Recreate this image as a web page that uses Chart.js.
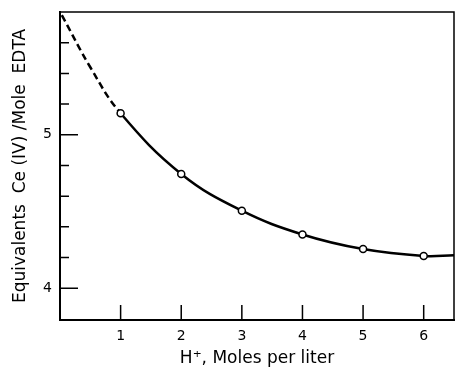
<!DOCTYPE html>
<html>
<head>
<meta charset="utf-8">
<script src="https://cdn.jsdelivr.net/npm/chart.js@4/dist/chart.umd.min.js"></script>
<style>
  body { margin: 0; background: #fff; }
  canvas { display: block; }
</style>
</head>
<body>
<canvas id="ceChart" width="455" height="369"></canvas>
<script>
// measured points
const hPlus = [1, 2, 3, 4, 5, 6];
const equivalents = [5.14, 4.745, 4.505, 4.35, 4.255, 4.21];

// drawn curve (dashed below x = 1)
const curveX = [0.03, 0.5, 1, 2, 3, 4, 5, 6, 6.5];
const curveY = [5.78, 5.44, 5.14, 4.745, 4.505, 4.35, 4.255, 4.21, 4.215];

const xTicks = [1, 2, 3, 4, 5, 6];
const yTicks = [4, 5];
const yMinorTicks = [4.2, 4.4, 4.6, 4.8, 5.2, 5.4, 5.6];

Chart.defaults.font.family = 'DejaVu Sans';
Chart.defaults.color = '#000';

// inward ticks + closed frame
const frameAndTicks = {
    id: 'frameAndTicks',
    afterDraw(chart) {
        const ctx = chart.ctx;
        const area = chart.chartArea;
        const xs = chart.scales.x;
        const ys = chart.scales.y;
        ctx.save();
        ctx.strokeStyle = '#000';
        ctx.lineWidth = 1.5;
        ctx.beginPath();
        ctx.moveTo(area.left, area.top);
        ctx.lineTo(area.right, area.top);
        ctx.lineTo(area.right, area.bottom);
        ctx.stroke();

        ctx.beginPath();
        xTicks.forEach(v => {
            const px = xs.getPixelForValue(v);
            ctx.moveTo(px, area.bottom);
            ctx.lineTo(px, area.bottom - 15);
        });
        yTicks.forEach(v => {
            const py = ys.getPixelForValue(v);
            ctx.moveTo(area.left, py);
            ctx.lineTo(area.left + 18, py);
        });
        yMinorTicks.forEach(v => {
            const py = ys.getPixelForValue(v);
            ctx.moveTo(area.left, py);
            ctx.lineTo(area.left + 9, py);
        });
        ctx.stroke();
        ctx.restore();
    }
};

function noPad(s) {
    s.paddingTop = 0;
    s.paddingBottom = 0;
    s.paddingLeft = 0;
    s.paddingRight = 0;
}

const ctx = document.getElementById('ceChart').getContext('2d');
new Chart(ctx, {
    type: 'scatter',
    data: {
        datasets: [{
            label: 'Measured',
            data: hPlus.map((x, i) => ({ x: x, y: equivalents[i] })),
            showLine: false,
            pointRadius: 3.5,
            pointBorderWidth: 1.5,
            pointBackgroundColor: '#fff',
            pointBorderColor: '#000',
            order: 0
        }, {
            label: 'Curve',
            data: curveX.map((x, i) => ({ x: x, y: curveY[i] })),
            showLine: true,
            pointRadius: 0,
            borderColor: '#000',
            borderWidth: 2.5,
            tension: 0.4,
            segment: {
                borderDash: c => c.p1.parsed.x <= 1 ? [7, 4] : undefined
            },
            order: 1
        }]
    },
    options: {
        responsive: false,
        animation: false,
        layout: { autoPadding: false, padding: { top: 12, right: 1, left: 0, bottom: 0 } },
        plugins: {
            legend: { display: false },
            tooltip: { enabled: false }
        },
        scales: {
            x: {
                type: 'linear',
                min: 0,
                max: 6.5,
                afterBuildTicks: s => { s.ticks = xTicks.map(v => ({ value: v })); },
                afterFit: s => { s.height = 49; noPad(s); },
                grid: { display: false, drawTicks: false },
                border: { display: true, color: '#000', width: 2 },
                ticks: { padding: 8, font: { size: 14 }, maxRotation: 0 },
                title: {
                    display: true,
                    text: 'H\u207A, Moles per liter',
                    font: { size: 17 },
                    padding: { top: 0, bottom: 0 }
                }
            },
            y: {
                type: 'linear',
                min: 3.793,
                max: 5.8,
                afterBuildTicks: s => { s.ticks = yTicks.map(v => ({ value: v })); },
                afterFit: s => { s.width = 60; noPad(s); },
                grid: { display: false, drawTicks: false },
                border: { display: true, color: '#000', width: 2 },
                ticks: { padding: 8, font: { size: 14 } },
                title: {
                    display: true,
                    text: 'Equivalents  Ce (IV) /Mole  EDTA',
                    font: { size: 17 },
                    padding: { top: 10, bottom: 0 }
                }
            }
        }
    },
    plugins: [frameAndTicks]
});
</script>
</body>
</html>
